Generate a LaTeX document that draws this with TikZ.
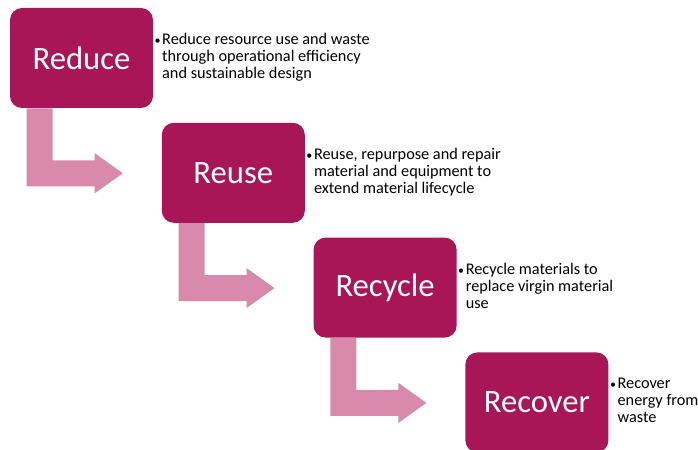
\documentclass[tikz,border=0pt]{standalone}
\usepackage{fontspec}
\setmainfont{Carlito}
\usetikzlibrary{positioning}

\definecolor{berry}{RGB}{168,22,88}
\definecolor{berrylight}{RGB}{217,138,172}
\newcommand{\notebullet}{\llap{{\fontsize{9}{9}\selectfont\textbullet}\hspace{1.2pt}}}

\begin{document}
\begin{tikzpicture}[
    x=0.75pt, y=-0.75pt,
    stage/.style={rectangle, rounded corners=9pt, fill=berry, text=white, minimum width=107.25pt, minimum height=75pt, align=center, font=\fontsize{24.5}{28}\selectfont},
    note/.style={anchor=north west, inner sep=0pt, align=left, font=\fontsize{12.2}{12.75}\selectfont},
    flow/.style={fill=berrylight}
]
\useasboundingbox (0,0) rectangle (698,449);

% Stages
\node[stage] (reduce) at (81.5,58) {Reduce};
\node[stage, below right=10.7pt and 6.2pt of reduce] (reuse) {Reuse};
\node[stage, below right=10.7pt and 6.2pt of reuse] (recycle) {Recycle};
\node[stage, below right=10.7pt and 6.2pt of recycle] (recover) {Recover};

% Notes
\node[note] (reducetxt) at ([xshift=6.5pt, yshift=-19pt]reduce.north east) {\notebullet Reduce resource use and waste\\through operational efficiency\\and sustainable design};
\node[note] (reusetxt) at ([xshift=6.5pt, yshift=-19pt]reuse.north east) {\notebullet Reuse, repurpose and repair\\material and equipment to\\extend material lifecycle};
\node[note] (recycletxt) at ([xshift=6.5pt, yshift=-19pt]recycle.north east) {\notebullet Recycle materials to\\replace virgin material\\use};
\node[note] (recovertxt) at ([xshift=6.5pt, yshift=-19pt]recover.north east) {\notebullet Recover\\energy from\\waste};

% Bent arrows
\foreach \s in {reduce, reuse, recycle}
    \fill[flow] ([xshift=12.75pt]\s.south west) -- ++(0,78) -- ++(68,0) -- ++(0,7)
        -- ++(28,-20) -- ++(-28,-20) -- ++(0,7) -- ++(-42,0) -- ++(0,-52) -- cycle;

\end{tikzpicture}
\end{document}
